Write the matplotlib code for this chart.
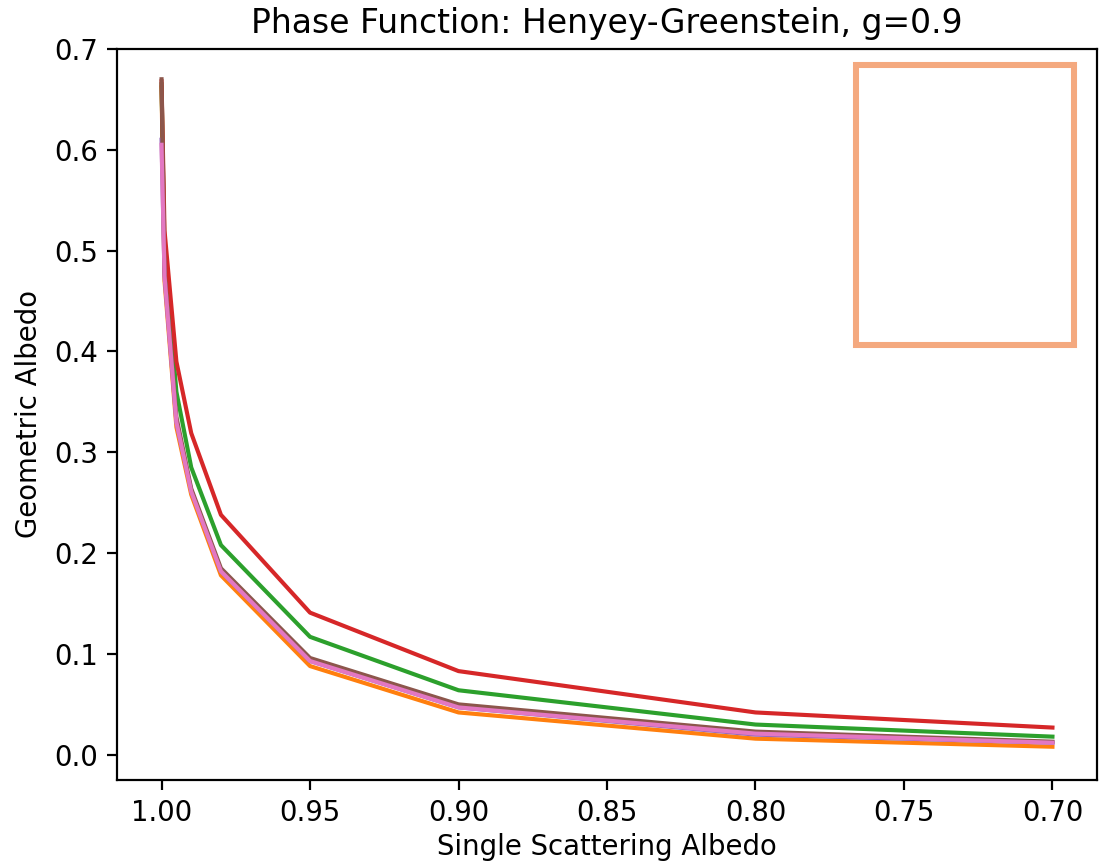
import matplotlib
matplotlib.use("Agg")
import matplotlib.pyplot as plt
from matplotlib.patches import Rectangle

ssa = [1.0, 0.999, 0.995, 0.99, 0.98, 0.95, 0.90, 0.80, 0.70]

ga_orange = [0.662, 0.47, 0.325, 0.258, 0.178, 0.088, 0.042, 0.016, 0.008]
ga_green = [0.665, 0.50, 0.36, 0.285, 0.208, 0.117, 0.064, 0.030, 0.018]
ga_red = [0.668, 0.52, 0.39, 0.319, 0.238, 0.141, 0.083, 0.042, 0.027]
ga_purple = [0.61, 0.475, 0.33, 0.262, 0.182, 0.093, 0.047, 0.020, 0.012]
ga_brown = [0.670, 0.48, 0.335, 0.264, 0.185, 0.096, 0.050, 0.023, 0.013]
ga_pink = [0.605, 0.475, 0.33, 0.261, 0.182, 0.093, 0.047, 0.021, 0.012]

series = [
    (ga_orange, 'tab:orange'),
    (ga_green, 'tab:green'),
    (ga_red, 'tab:red'),
    (ga_purple, 'tab:purple'),
    (ga_brown, 'tab:brown'),
    (ga_pink, 'tab:pink'),
]

dpi = 198
fig = plt.figure(figsize=(1102 / dpi, 865 / dpi), dpi=dpi)
ax = fig.add_axes([117 / 1102, 85 / 865, 980 / 1102, 731 / 865])

for vals, c in series:
    ax.plot(ssa, vals, color=c)

ax.invert_xaxis()
ax.set_yticks([0.0, 0.1, 0.2, 0.3, 0.4, 0.5, 0.6, 0.7])
ax.set_xticks([1.00, 0.95, 0.90, 0.85, 0.80, 0.75, 0.70])
ax.set_xticklabels(['1.00', '0.95', '0.90', '0.85', '0.80', '0.75', '0.70'])
ax.set_ylim(-0.025, 0.70)
ax.set_xlim(1.015, 0.685)

ax.set_title('Phase Function: Henyey-Greenstein, g=0.9')
ax.set_xlabel('Single Scattering Albedo', labelpad=2)
ax.set_ylabel('Geometric Albedo')

# empty highlight box in the upper right
box = Rectangle((0.754, 0.595), 0.223, 0.383, transform=ax.transAxes,
                fill=False, edgecolor='#f4a97f', linewidth=2.2)
ax.add_patch(box)

fig.savefig('out.png', dpi=dpi)
